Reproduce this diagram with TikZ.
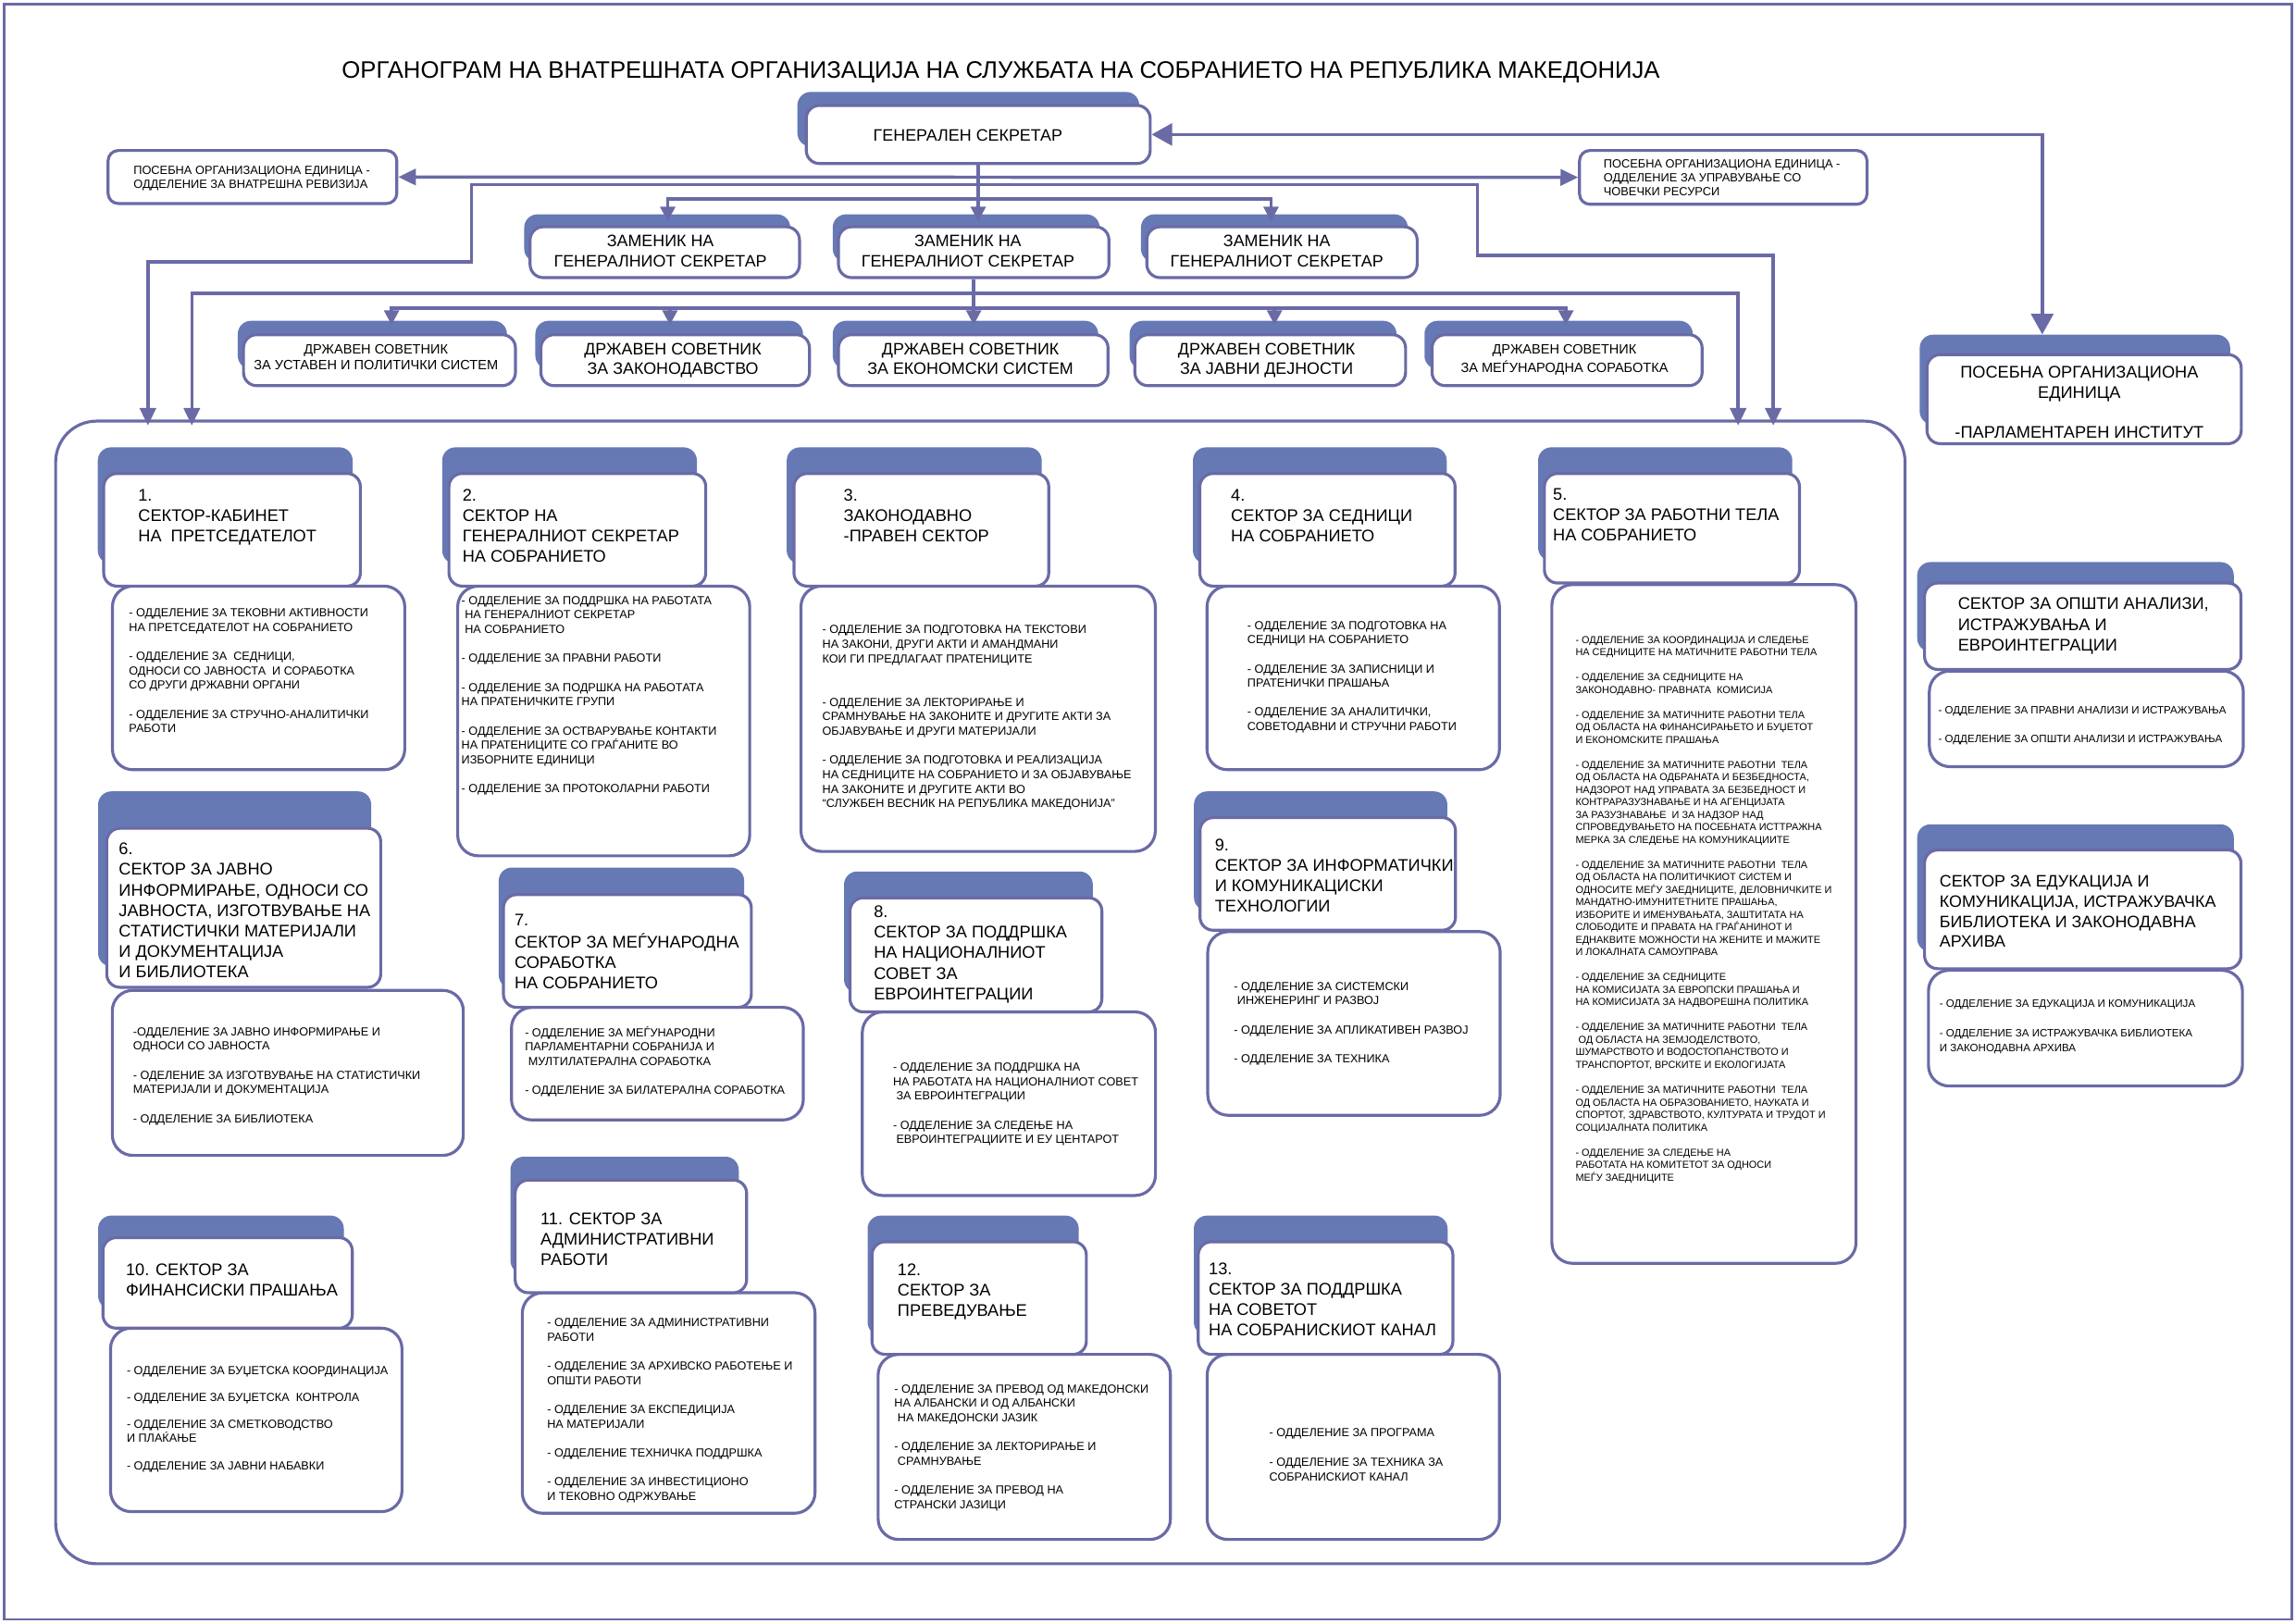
\documentclass[tikz,border=0pt]{standalone}
\usepackage{fontspec}
\setmainfont{Liberation Sans}
\usetikzlibrary{arrows.meta,fit}
\definecolor{linec}{HTML}{6A6AA6}
\definecolor{tabc}{HTML}{6679B5}
\newcommand\fz[2]{\fontsize{#1}{#2}\selectfont}
\newcommand\orgsector[4]{%
  \node[tabbox, fit={#2}] (#1t) {};
  \node[detbox, fit={#4}] (#1d) {};
  \node[hdrbox, fit={#3}] (#1h) {};
}
\tikzset{
  tabbox/.style={fill=tabc, draw=none, rounded corners=9pt, inner sep=0pt},
  hdrbox/.style={fill=white, draw=linec, line width=2pt, rounded corners=9pt, inner sep=0pt},
  detbox/.style={fill=white, draw=linec, line width=2pt, rounded corners=14pt, inner sep=0pt},
  plainbox/.style={fill=white, draw=linec, line width=2pt, rounded corners=7pt, inner sep=0pt},
  conn/.style={draw=linec, line width=2.2pt},
  tipA/.tip={Triangle[length=10pt,width=10pt]},
  tipB/.tip={Triangle[length=14pt,width=15pt]},
  tipC/.tip={Triangle[length=12pt,width=11pt]},
  ht/.style={anchor=north west, inner sep=0pt, align=left, font=\fz{11.5}{13.9}, yshift=5.61pt},
  dt/.style={anchor=north west, inner sep=0pt, align=left, font=\fz{8}{9.9}, yshift=4.07pt},
  ct/.style={anchor=north, inner sep=0pt, align=center},
}
\begin{document}
\begin{tikzpicture}[x=1pt,y=-1pt]
\useasboundingbox (0,0) rectangle (1568,1109);
\node[draw=linec, line width=1.6pt, inner sep=0pt, fit={(3,3) (1565,1106)}] (frame) {};
\node[draw=linec, line width=2pt, rounded corners=28pt, inner sep=0pt, fit={(38,287.6) (1301,1068)}] (cont) {};

% title
\node[ct, font=\fz{16.25}{20}, yshift=8.18pt] (title) at (683.5,47.4) {\strut ОРГАНОГРАМ НА ВНАТРЕШНАТА ОРГАНИЗАЦИЈА НА СЛУЖБАТА НА СОБРАНИЕТО НА РЕПУБЛИКА МАКЕДОНИЈА};

% general secretary
\node[tabbox, fit={(544.6,62.8) (778,100)}] (gst) {};
\node[hdrbox, fit={(550.6,72) (785.5,111.7)}] (gs) {};
\node[ct, font=\fz{11.3}{13.7}, yshift=5.54pt] (gstx) at (661,92.3) {\strut ГЕНЕРАЛЕН СЕКРЕТАР};

% side boxes
\node[plainbox, fit={(73.8,102.8) (271,139)}] (lb) {};
\node[anchor=north west, inner sep=0pt, align=left, font=\fz{8.1}{9.1}, yshift=3.47pt] (lbtx) at (91,116.3) {\strut ПОСЕБНА ОРГАНИЗАЦИОНА ЕДИНИЦА -\\ОДДЕЛЕНИЕ ЗА ВНАТРЕШНА РЕВИЗИЈА};
\node[plainbox, fit={(1078.7,102.8) (1275,139.5)}] (rb) {};
\node[anchor=north west, inner sep=0pt, align=left, font=\fz{8.1}{9.5}, yshift=3.75pt] (rbtx) at (1095,111.7) {\strut ПОСЕБНА ОРГАНИЗАЦИОНА ЕДИНИЦА -\\ОДДЕЛЕНИЕ ЗА УПРАВУВАЊЕ СО\\ЧОВЕЧКИ РЕСУРСИ};

% deputies
\node[tabbox, fit={(358,146.4) (539.7,179)}] (z1t) {};
\node[hdrbox, fit={(362,154.9) (546,189.6)}] (z1) {};
\node[tabbox, fit={(568.7,146.4) (751,179)}] (z2t) {};
\node[hdrbox, fit={(572.6,154.9) (757.3,189.6)}] (z2) {};
\node[tabbox, fit={(779.2,146.4) (961.4,179)}] (z3t) {};
\node[hdrbox, fit={(783.2,154.9) (967.8,189.6)}] (z3) {};
\node[ct, font=\fz{11.3}{13.7}, yshift=5.54pt] (z1tx) at (451,164.4) {\strut ЗАМЕНИК НА\\ГЕНЕРАЛНИОТ СЕКРЕТАР};
\node[ct, font=\fz{11.3}{13.7}, yshift=5.54pt] (z2tx) at (661,164.4) {\strut ЗАМЕНИК НА\\ГЕНЕРАЛНИОТ СЕКРЕТАР};
\node[ct, font=\fz{11.3}{13.7}, yshift=5.54pt] (z3tx) at (872,164.4) {\strut ЗАМЕНИК НА\\ГЕНЕРАЛНИОТ СЕКРЕТАР};

% state advisers
\node[tabbox, fit={(162.4,219.1) (346.2,252)}] (d1t) {};
\node[hdrbox, fit={(166.3,228.6) (352,263.4)}] (d1) {};
\node[tabbox, fit={(365.6,219.1) (548.4,252)}] (d2t) {};
\node[hdrbox, fit={(369.4,228.6) (552.8,263.4)}] (d2) {};
\node[tabbox, fit={(568.7,219.1) (750,252)}] (d3t) {};
\node[hdrbox, fit={(572.6,228.6) (756.7,263.4)}] (d3) {};
\node[tabbox, fit={(771.4,219.1) (953.7,252)}] (d4t) {};
\node[hdrbox, fit={(775,228.6) (959.9,263.4)}] (d4) {};
\node[tabbox, fit={(972.8,219.1) (1156,252)}] (d5t) {};
\node[hdrbox, fit={(978,228.6) (1162.4,263.4)}] (d5) {};
\node[ct, font=\fz{9.2}{10.8}, yshift=4.27pt] (d1tx) at (256.7,238.5) {\strut ДРЖАВЕН СОВЕТНИК\\ЗА УСТАВЕН И ПОЛИТИЧКИ СИСТЕМ};
\node[ct, font=\fz{11.3}{13.1}, yshift=5.12pt] (d2tx) at (459.5,238.1) {\strut ДРЖАВЕН СОВЕТНИК\\ЗА ЗАКОНОДАВСТВО};
\node[ct, font=\fz{11.3}{13.1}, yshift=5.12pt] (d3tx) at (662.7,238.1) {\strut ДРЖАВЕН СОВЕТНИК\\ЗА ЕКОНОМСКИ СИСТЕМ};
\node[ct, font=\fz{11.3}{13.1}, yshift=5.12pt] (d4tx) at (865,238.1) {\strut ДРЖАВЕН СОВЕТНИК\\ЗА ЈАВНИ ДЕЈНОСТИ};
\node[ct, font=\fz{9.2}{10.8}, yshift=4.27pt] (d5tx) at (1068.4,238.5) {\strut ДРЖАВЕН СОВЕТНИК\\ЗА МЕЃУНАРОДНА СОРАБОТКА};

% parliamentary institute
\node[tabbox, fit={(1311,228.6) (1523,290)}] (pit) {};
\node[hdrbox, fit={(1316,242.2) (1530.6,303)}] (pi) {};
\node[ct, font=\fz{11.5}{13.7}, yshift=5.47pt] (pitx) at (1420,253.9) {\strut ПОСЕБНА ОРГАНИЗАЦИОНА\\ЕДИНИЦА\\\strut\\-ПАРЛАМЕНТАРЕН ИНСТИТУТ};

% sectors
\orgsector{s1}{(66.8,305.5) (240.8,385)}{(70.8,323.4) (246.1,400.3)}{(76.8,400.3) (276.4,525.7)}
\orgsector{s2}{(302,305.5) (475.9,385)}{(306.6,323.4) (482,400.3)}{(312.6,400.3) (512,584.5)}
\orgsector{s3}{(537.3,305.5) (711.4,385)}{(542.2,323.4) (716.2,400.3)}{(547,400.3) (789,581.5)}
\orgsector{s4}{(814.7,305.5) (988,385)}{(819.4,323.4) (993.7,400.3)}{(824.3,400.3) (1024,525.7)}
\orgsector{s5}{(1050.4,305.5) (1224,383)}{(1054.7,323.4) (1228.9,398.2)}{(1059.8,399.3) (1267.5,862.8)}
\orgsector{s6}{(67,540.5) (253.5,660)}{(72.9,565.7) (260,674.3)}{(76.7,676.4) (316.4,789.1)}
\orgsector{s7}{(340.6,592.5) (508.2,675)}{(343.8,611) (513.1,688)}{(349.3,688) (548.6,764.9)}
\orgsector{s8}{(576.4,595.2) (746.3,678)}{(580.5,613.2) (752.5,691.1)}{(588.9,691.1) (789.1,816.5)}
\orgsector{s9}{(815.4,540.5) (988.4,622)}{(819.5,558.4) (994,635.3)}{(824.8,636.3) (1024.5,761.7)}
\orgsector{s10}{(67,830.2) (234.8,894)}{(70.3,845.3) (240.6,907.1)}{(75.5,907.1) (274.5,1032.4)}
\orgsector{s11}{(348.6,790) (504.5,870)}{(351.8,806) (509.9,882.9)}{(356.7,882.9) (556.6,1033.5)}
\orgsector{s12}{(592.5,830.2) (736.7,912)}{(595.5,848.1) (741.9,925)}{(599.7,925) (799.3,1051.4)}
\orgsector{s13}{(815.3,830.2) (988.6,912)}{(818.3,848.1) (992.2,925)}{(824.4,925) (1024,1051.4)}
\orgsector{r1}{(1309.3,383.9) (1525.5,445)}{(1314.3,398.2) (1530.4,457.2)}{(1317.6,458.3) (1532,523.6)}
\orgsector{r2}{(1309.3,563) (1525.5,650)}{(1314.3,580.5) (1530.4,661.6)}{(1317,662.7) (1531.4,741.7)}

% sector texts
\node[ht] (s1ht) at (94.2,338) {\strut 1.\\СЕКТОР-КАБИНЕТ\\НА\ \ ПРЕТСЕДАТЕЛОТ};
\node[dt] (s1dt) at (87.9,418.2) {\strut - ОДДЕЛЕНИЕ ЗА ТЕКОВНИ АКТИВНОСТИ\\НА ПРЕТСЕДАТЕЛОТ НА СОБРАНИЕТО\\\strut\\- ОДДЕЛЕНИЕ ЗА\ \ СЕДНИЦИ,\\ОДНОСИ СО ЈАВНОСТА\ \ И СОРАБОТКА\\СО ДРУГИ ДРЖАВНИ ОРГАНИ\\\strut\\- ОДДЕЛЕНИЕ ЗА СТРУЧНО-АНАЛИТИЧКИ\\РАБОТИ};

\node[ht] (s2ht) at (315.7,338) {\strut 2.\\СЕКТОР НА\\ГЕНЕРАЛНИОТ СЕКРЕТАР\\НА СОБРАНИЕТО};
\node[dt] (s2dt) at (315,409.8) {\strut - ОДДЕЛЕНИЕ ЗА ПОДДРШКА НА РАБОТАТА\\\ НА ГЕНЕРАЛНИОТ СЕКРЕТАР\\\ НА СОБРАНИЕТО\\\strut\\- ОДДЕЛЕНИЕ ЗА ПРАВНИ РАБОТИ\\\strut\\- ОДДЕЛЕНИЕ ЗА ПОДРШКА НА РАБОТАТА\\НА ПРАТЕНИЧКИТЕ ГРУПИ\\\strut\\- ОДДЕЛЕНИЕ ЗА ОСТВАРУВАЊЕ КОНТАКТИ\\НА ПРАТЕНИЦИТЕ СО ГРАЃАНИТЕ ВО\\ИЗБОРНИТЕ ЕДИНИЦИ\\\strut\\- ОДДЕЛЕНИЕ ЗА ПРОТОКОЛАРНИ РАБОТИ};

\node[ht] (s3ht) at (576,338) {\strut 3.\\ЗАКОНОДАВНО\\-ПРАВЕН СЕКТОР};
\node[dt] (s3dt) at (561.4,429.8) {\strut - ОДДЕЛЕНИЕ ЗА ПОДГОТОВКА НА ТЕКСТОВИ\\НА ЗАКОНИ, ДРУГИ АКТИ И АМАНДМАНИ\\КОИ ГИ ПРЕДЛАГААТ ПРАТЕНИЦИТЕ\\\strut\\\strut\\- ОДДЕЛЕНИЕ ЗА ЛЕКТОРИРАЊЕ И\\СРАМНУВАЊЕ НА ЗАКОНИТЕ И ДРУГИТЕ АКТИ ЗА\\ОБЈАВУВАЊЕ И ДРУГИ МАТЕРИЈАЛИ\\\strut\\- ОДДЕЛЕНИЕ ЗА ПОДГОТОВКА И РЕАЛИЗАЦИЈА\\НА СЕДНИЦИТЕ НА СОБРАНИЕТО И ЗА ОБЈАВУВАЊЕ\\НА ЗАКОНИТЕ И ДРУГИТЕ АКТИ ВО\\“СЛУЖБЕН ВЕСНИК НА РЕПУБЛИКА МАКЕДОНИЈА”};

\node[ht] (s4ht) at (840.5,338) {\strut 4.\\СЕКТОР ЗА СЕДНИЦИ\\НА СОБРАНИЕТО};
\node[dt] (s4dt) at (851.7,426.7) {\strut - ОДДЕЛЕНИЕ ЗА ПОДГОТОВКА НА\\СЕДНИЦИ НА СОБРАНИЕТО\\\strut\\- ОДДЕЛЕНИЕ ЗА ЗАПИСНИЦИ И\\ПРАТЕНИЧКИ ПРАШАЊА\\\strut\\- ОДДЕЛЕНИЕ ЗА АНАЛИТИЧКИ,\\СОВЕТОДАВНИ И СТРУЧНИ РАБОТИ};

\node[ht] (s5ht) at (1060.4,337) {\strut 5.\\СЕКТОР ЗА РАБОТНИ ТЕЛА\\НА СОБРАНИЕТО};
\node[anchor=north west, inner sep=0pt, align=left, font=\fz{6.9}{8.54}, yshift=3.51pt] (s5dt) at (1075.8,436.6) {\strut - ОДДЕЛЕНИЕ ЗА КООРДИНАЦИЈА И СЛЕДЕЊЕ\\НА СЕДНИЦИТЕ НА МАТИЧНИТЕ РАБОТНИ ТЕЛА\\\strut\\- ОДДЕЛЕНИЕ ЗА СЕДНИЦИТЕ НА\\ЗАКОНОДАВНО- ПРАВНАТА\ \ КОМИСИЈА\\\strut\\- ОДДЕЛЕНИЕ ЗА МАТИЧНИТЕ РАБОТНИ ТЕЛА\\ОД ОБЛАСТА НА ФИНАНСИРАЊЕТО И БУЏЕТОТ\\И ЕКОНОМСКИТЕ ПРАШАЊА\\\strut\\- ОДДЕЛЕНИЕ ЗА МАТИЧНИТЕ РАБОТНИ\ \ ТЕЛА\\ОД ОБЛАСТА НА ОДБРАНАТА И БЕЗБЕДНОСТА,\\НАДЗОРОТ НАД УПРАВАТА ЗА БЕЗБЕДНОСТ И\\КОНТРАРАЗУЗНАВАЊЕ И НА АГЕНЦИЈАТА\\ЗА РАЗУЗНАВАЊЕ\ \ И ЗА НАДЗОР НАД\\СПРОВЕДУВАЊЕТО НА ПОСЕБНАТА ИСТТРАЖНА\\МЕРКА ЗА СЛЕДЕЊЕ НА КОМУНИКАЦИИТЕ\\\strut\\- ОДДЕЛЕНИЕ ЗА МАТИЧНИТЕ РАБОТНИ\ \ ТЕЛА\\ОД ОБЛАСТА НА ПОЛИТИЧКИОТ СИСТЕМ И\\ОДНОСИТЕ МЕЃУ ЗАЕДНИЦИТЕ, ДЕЛОВНИЧКИТЕ И\\МАНДАТНО-ИМУНИТЕТНИТЕ ПРАШАЊА,\\ИЗБОРИТЕ И ИМЕНУВАЊАТА, ЗАШТИТАТА НА\\СЛОБОДИТЕ И ПРАВАТА НА ГРАЃАНИНОТ И\\ЕДНАКВИТЕ МОЖНОСТИ НА ЖЕНИТЕ И МАЖИТЕ\\И ЛОКАЛНАТА САМОУПРАВА\\\strut\\- ОДДЕЛЕНИЕ ЗА СЕДНИЦИТЕ\\НА КОМИСИЈАТА ЗА ЕВРОПСКИ ПРАШАЊА И\\НА КОМИСИЈАТА ЗА НАДВОРЕШНА ПОЛИТИКА\\\strut\\- ОДДЕЛЕНИЕ ЗА МАТИЧНИТЕ РАБОТНИ\ \ ТЕЛА\\\ ОД ОБЛАСТА НА ЗЕМЈОДЕЛСТВОТО,\\ШУМАРСТВОТО И ВОДОСТОПАНСТВОТО И\\ТРАНСПОРТОТ, ВРСКИТЕ И ЕКОЛОГИЈАТА\\\strut\\- ОДДЕЛЕНИЕ ЗА МАТИЧНИТЕ РАБОТНИ\ \ ТЕЛА\\ОД ОБЛАСТА НА ОБРАЗОВАНИЕТО, НАУКАТА И\\СПОРТОТ, ЗДРАВСТВОТО, КУЛТУРАТА И ТРУДОТ И\\СОЦИЈАЛНАТА ПОЛИТИКА\\\strut\\- ОДДЕЛЕНИЕ ЗА СЛЕДЕЊЕ НА\\РАБОТАТА НА КОМИТЕТОТ ЗА ОДНОСИ\\МЕЃУ ЗАЕДНИЦИТЕ};

\node[ht, font=\fz{11.5}{14}] (s6ht) at (81,579.4) {\strut 6.\\СЕКТОР ЗА ЈАВНО\\ИНФОРМИРАЊЕ, ОДНОСИ СО\\ЈАВНОСТА, ИЗГОТВУВАЊЕ НА\\СТАТИСТИЧКИ МАТЕРИЈАЛИ\\И ДОКУМЕНТАЦИЈА\\И БИБЛИОТЕКА};
\node[dt] (s6dt) at (90.7,704.2) {\strut -ОДДЕЛЕНИЕ ЗА ЈАВНО ИНФОРМИРАЊЕ И\\ОДНОСИ СО ЈАВНОСТА\\\strut\\- ОДЕЛЕНИЕ ЗА ИЗГОТВУВАЊЕ НА СТАТИСТИЧКИ\\МАТЕРИЈАЛИ И ДОКУМЕНТАЦИЈА\\\strut\\- ОДДЕЛЕНИЕ ЗА БИБЛИОТЕКА};

\node[ht] (s7ht) at (351.2,628.3) {\strut 7.\\СЕКТОР ЗА МЕЃУНАРОДНА\\СОРАБОТКА\\НА СОБРАНИЕТО};
\node[dt] (s7dt) at (358.3,704.8) {\strut - ОДДЕЛЕНИЕ ЗА МЕЃУНАРОДНИ\\ПАРЛАМЕНТАРНИ СОБРАНИЈА И\\\ МУЛТИЛАТЕРАЛНА СОРАБОТКА\\\strut\\- ОДДЕЛЕНИЕ ЗА БИЛАТЕРАЛНА СОРАБОТКА};

\node[ht, font=\fz{11.5}{14.1}] (s8ht) at (596.6,622) {\strut 8.\\СЕКТОР ЗА ПОДДРШКА\\НА НАЦИОНАЛНИОТ\\СОВЕТ ЗА\\ЕВРОИНТЕГРАЦИИ};
\node[dt] (s8dt) at (609.7,728.4) {\strut - ОДДЕЛЕНИЕ ЗА ПОДДРШКА НА\\НА РАБОТАТА НА НАЦИОНАЛНИОТ СОВЕТ\\\ ЗА ЕВРОИНТЕГРАЦИИ\\\strut\\- ОДДЕЛЕНИЕ ЗА СЛЕДЕЊЕ НА\\\ ЕВРОИНТЕГРАЦИИТЕ И ЕУ ЦЕНТАРОТ};

\node[ht] (s9ht) at (829.5,576.9) {\strut 9.\\СЕКТОР ЗА ИНФОРМАТИЧКИ\\И КОМУНИКАЦИСКИ\\ТЕХНОЛОГИИ};
\node[dt] (s9dt) at (842.5,673.2) {\strut - ОДДЕЛЕНИЕ ЗА СИСТЕМСКИ\\\ ИНЖЕНЕРИНГ И РАЗВОЈ\\\strut\\- ОДДЕЛЕНИЕ ЗА АПЛИКАТИВЕН РАЗВОЈ\\\strut\\- ОДДЕЛЕНИЕ ЗА ТЕХНИКА};

\node[ht] (s10ht) at (85.8,867) {\strut 10. СЕКТОР ЗА\\ФИНАНСИСКИ ПРАШАЊА};
\node[dt, font=\fz{8}{9.3}, yshift=-0.42pt] (s10dt) at (86.4,935.5) {\strut - ОДДЕЛЕНИЕ ЗА БУЏЕТСКА КООРДИНАЦИЈА\\\strut\\- ОДДЕЛЕНИЕ ЗА БУЏЕТСКА\ \ КОНТРОЛА\\\strut\\- ОДДЕЛЕНИЕ ЗА СМЕТКОВОДСТВО\\И ПЛАЌАЊЕ\\\strut\\- ОДДЕЛЕНИЕ ЗА ЈАВНИ НАБАВКИ};

\node[ht] (s11ht) at (369,832.3) {\strut 11. СЕКТОР ЗА\\АДМИНИСТРАТИВНИ\\РАБОТИ};
\node[dt] (s11dt) at (373.5,902.9) {\strut - ОДДЕЛЕНИЕ ЗА АДМИНИСТРАТИВНИ\\РАБОТИ\\\strut\\- ОДДЕЛЕНИЕ ЗА АРХИВСКО РАБОТЕЊЕ И\\ОПШТИ РАБОТИ\\\strut\\- ОДДЕЛЕНИЕ ЗА ЕКСПЕДИЦИЈА\\НА МАТЕРИЈАЛИ\\\strut\\- ОДДЕЛЕНИЕ ТЕХНИЧКА ПОДДРШКА\\\strut\\- ОДДЕЛЕНИЕ ЗА ИНВЕСТИЦИОНО\\И ТЕКОВНО ОДРЖУВАЊЕ};

\node[ht] (s12ht) at (612.8,867) {\strut 12.\\СЕКТОР ЗА\\ПРЕВЕДУВАЊЕ};
\node[dt] (s12dt) at (610.6,948.2) {\strut - ОДДЕЛЕНИЕ ЗА ПРЕВОД ОД МАКЕДОНСКИ\\НА АЛБАНСКИ И ОД АЛБАНСКИ\\\ НА МАКЕДОНСКИ ЈАЗИК\\\strut\\- ОДДЕЛЕНИЕ ЗА ЛЕКТОРИРАЊЕ И\\\ СРАМНУВАЊЕ\\\strut\\- ОДДЕЛЕНИЕ ЗА ПРЕВОД НА\\СТРАНСКИ ЈАЗИЦИ};

\node[ht] (s13ht) at (825.3,866.4) {\strut 13.\\СЕКТОР ЗА ПОДДРШКА\\НА СОВЕТОТ\\НА СОБРАНИСКИОТ КАНАЛ};
\node[dt, font=\fz{8}{10.1}, yshift=0.14pt] (s13dt) at (866.7,978) {\strut - ОДДЕЛЕНИЕ ЗА ПРОГРАМА\\\strut\\- ОДДЕЛЕНИЕ ЗА ТЕХНИКА ЗА\\СОБРАНИСКИОТ КАНАЛ};

\node[ht, font=\fz{11.5}{14}] (r1ht) at (1337,412) {\strut СЕКТОР ЗА ОПШТИ АНАЛИЗИ,\\ИСТРАЖУВАЊА И\\ЕВРОИНТЕГРАЦИИ};
\node[anchor=north west, inner sep=0pt, align=left, font=\fz{7.3}{10}, yshift=4.39pt] (r1dt) at (1323.6,484.6) {\strut - ОДДЕЛЕНИЕ ЗА ПРАВНИ АНАЛИЗИ И ИСТРАЖУВАЊА\\\strut\\- ОДДЕЛЕНИЕ ЗА ОПШТИ АНАЛИЗИ И ИСТРАЖУВАЊА};

\node[ht, font=\fz{11.3}{13.8}, yshift=0.07pt] (r2ht) at (1324.4,601.5) {\strut СЕКТОР ЗА ЕДУКАЦИЈА И\\КОМУНИКАЦИЈА, ИСТРАЖУВАЧКА\\БИБЛИОТЕКА И ЗАКОНОДАВНА\\АРХИВА};
\node[anchor=north west, inner sep=0pt, align=left, font=\fz{7.3}{10.2}, yshift=4.53pt] (r2dt) at (1324.4,684.8) {\strut - ОДДЕЛЕНИЕ ЗА ЕДУКАЦИЈА И КОМУНИКАЦИЈА\\\strut\\- ОДДЕЛЕНИЕ ЗА ИСТРАЖУВАЧКА БИБЛИОТЕКА\\И ЗАКОНОДАВНА АРХИВА};

% ---------- connectors ----------
\coordinate (gpR) at (1394.7,91.85);
\draw[conn, tipB-tipB] (gs.east) -- (gpR) -- (gpR |- pit.north);

\draw[conn, tipC-tipC] (lb.east) -- (rb.west);

\coordinate (gsz) at (gs.south |- z2t.north);
\draw[conn, -tipA] (gs.south) -- ([yshift=-5pt]gsz);

\coordinate (a1) at (101,179);
\coordinate (a2) at (322,179);
\coordinate (a3) at (322,126);
\coordinate (a4) at (1009,126);
\coordinate (a5) at (1009,174.5);
\coordinate (a6) at (1211,174.5);
\coordinate (a1e) at (a1 |- cont.north);
\coordinate (a6e) at (a6 |- cont.north);
\draw[conn, tipC-tipC] ([yshift=-4pt]a1e) -- (a1) -- (a2) -- (a3) -- (a4) -- (a5) -- (a6) -- ([yshift=-4pt]a6e);

\coordinate (b1) at (456,136);
\coordinate (b2) at (868,136);
\coordinate (b1e) at (b1 |- z1t.north);
\coordinate (b2e) at (b2 |- z3t.north);
\draw[conn, tipA-tipA] ([yshift=-5pt]b1e) -- (b1) -- (b2) -- ([yshift=-5pt]b2e);

\coordinate (zd) at (z2.south |- d3t.north);
\draw[conn, -tipA] (z2.south) -- ([yshift=-3pt]zd);

\coordinate (e1) at (131,200.4);
\coordinate (e2) at (1187,200.4);
\coordinate (e1e) at (e1 |- cont.north);
\coordinate (e2e) at (e2 |- cont.north);
\draw[conn, tipC-tipC] ([yshift=-4pt]e1e) -- (e1) -- (e2) -- ([yshift=-4pt]e2e);

\coordinate (f1) at (267.4,210.6);
\coordinate (f2) at (457.5,210.6);
\coordinate (f4) at (870.4,210.6);
\coordinate (f5) at (1069.4,210.6);
\coordinate (f1e) at (f1 |- d1t.north);
\coordinate (f2e) at (f2 |- d2t.north);
\coordinate (f4e) at (f4 |- d4t.north);
\coordinate (f5e) at (f5 |- d5t.north);
\draw[conn, tipA-tipA] ([yshift=-3pt]f1e) -- (f1) -- (f5) -- ([yshift=-3pt]f5e);
\draw[conn, -tipA] (f2) -- ([yshift=-3pt]f2e);
\draw[conn, -tipA] (f4) -- ([yshift=-3pt]f4e);
\end{tikzpicture}
\end{document}
